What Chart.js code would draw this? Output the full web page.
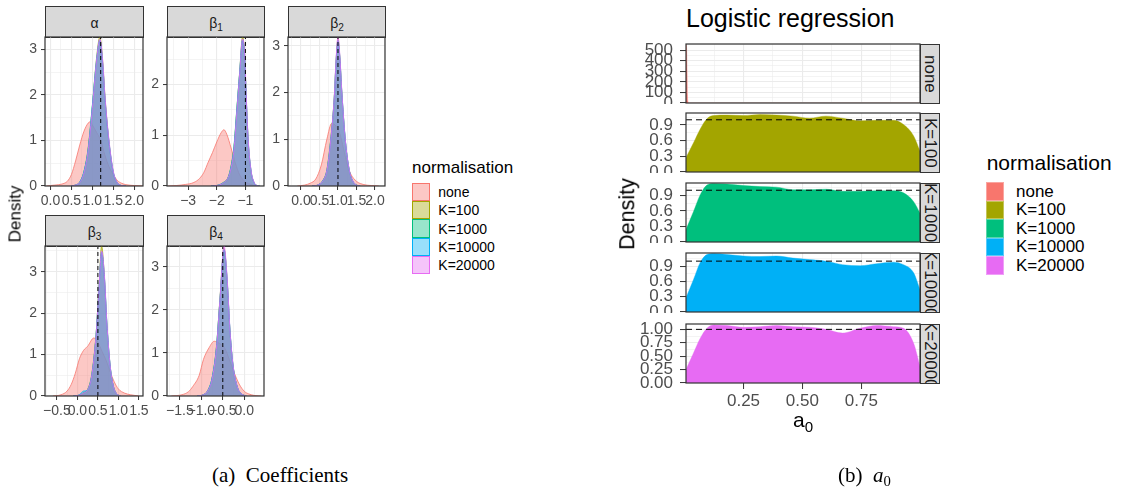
<!DOCTYPE html>
<html>
<head>
<meta charset="utf-8">
<script src="https://cdn.jsdelivr.net/npm/chart.js@4.4.1/dist/chart.umd.min.js"></script>
<style>
  body { margin: 0; background: #fff; }
  #page { position: relative; width: 1122px; height: 491px; overflow: hidden; background: #fff;
          font-family: "Liberation Sans", Arial, Helvetica, sans-serif; }
  .strip { position: absolute; box-sizing: border-box; background: #D9D9D9; border: 1px solid #333333;
           color: #1A1A1A; display: flex; align-items: center; justify-content: center; overflow: hidden; }
  .vstrip { writing-mode: vertical-rl; }
  sub { font-size: 72%; vertical-align: -0.3em; line-height: 0; }
</style>
</head>
<body>
<div id="page"></div>
<script>
// ---- normalisation groups ----
const normLabels = ['none', 'K=100', 'K=1000', 'K=10000', 'K=20000'];
const normColours = ['#F8766D', '#A3A500', '#00BF7D', '#00B0F6', '#E76BF3'];

// ---- coefficient densities (left figure) ----
const coefNames = ['α', 'β<sub>1</sub>', 'β<sub>2</sub>', 'β<sub>3</sub>', 'β<sub>4</sub>'];
const trueCoef = [1.2, -1, 1, 0.5, -0.5];

const alphaNoneX = [-0.1, 0.0, 0.1, 0.2, 0.3, 0.4, 0.5, 0.6, 0.7, 0.8, 0.9, 0.95, 1.0, 1.1, 1.2, 1.3, 1.4, 1.5, 1.6, 1.7, 1.8, 2.0, 2.2];
const alphaNoneY = [0.0, 0.01, 0.02, 0.03, 0.05, 0.10, 0.25, 0.55, 0.90, 1.20, 1.38, 1.41, 1.34, 1.18, 1.00, 0.68, 0.42, 0.25, 0.12, 0.06, 0.03, 0.01, 0.0];
const alphaKX = [0.5, 0.6, 0.7, 0.8, 0.9, 1.0, 1.1, 1.18, 1.25, 1.3, 1.4, 1.5, 1.6, 1.7, 1.8];
const alphaK100 = [0.0, 0.02, 0.08, 0.30, 0.80, 1.72, 2.80, 3.27, 2.70, 1.98, 0.93, 0.29, 0.06, 0.01, 0.0];
const alphaK1000 = [0.0, 0.02, 0.09, 0.32, 0.83, 1.76, 2.72, 3.18, 2.64, 1.95, 0.96, 0.31, 0.07, 0.01, 0.0];
const alphaK10000 = [0.0, 0.02, 0.08, 0.31, 0.79, 1.74, 2.76, 3.21, 2.66, 1.93, 0.94, 0.30, 0.06, 0.01, 0.0];
const alphaK20000 = [0.0, 0.02, 0.08, 0.29, 0.78, 1.70, 2.74, 3.22, 2.73, 2.01, 0.99, 0.33, 0.07, 0.01, 0.0];

const b1NoneX = [-3.7, -3.4, -3.1, -2.8, -2.6, -2.45, -2.3, -2.15, -2.0, -1.85, -1.75, -1.65, -1.5, -1.35, -1.2, -1.0, -0.8, -0.6];
const b1NoneY = [0.0, 0.01, 0.03, 0.07, 0.15, 0.27, 0.47, 0.66, 0.87, 1.05, 1.11, 1.02, 0.75, 0.45, 0.22, 0.08, 0.03, 0.0];
const b1KX = [-2.2, -2.0, -1.8, -1.6, -1.5, -1.4, -1.3, -1.2, -1.1, -1.03, -0.97, -0.9, -0.8, -0.7, -0.6, -0.5];
const b1K100 = [0, 0.01, 0.05, 0.17, 0.38, 0.75, 1.50, 2.25, 2.94, 2.62, 1.72, 0.86, 0.28, 0.07, 0.01, 0];
const b1K1000 = [0, 0.01, 0.06, 0.18, 0.40, 0.78, 1.52, 2.22, 2.86, 2.58, 1.70, 0.85, 0.27, 0.07, 0.01, 0];
const b1K10000 = [0, 0.01, 0.05, 0.16, 0.37, 0.74, 1.48, 2.24, 2.89, 2.60, 1.74, 0.88, 0.29, 0.07, 0.01, 0];
const b1K20000 = [0, 0.01, 0.05, 0.17, 0.36, 0.72, 1.46, 2.22, 2.90, 2.64, 1.78, 0.90, 0.30, 0.08, 0.01, 0];

const b2NoneX = [-0.1, 0.1, 0.25, 0.4, 0.55, 0.7, 0.83, 0.95, 1.05, 1.15, 1.25, 1.35, 1.5, 1.7, 1.9, 2.1];
const b2NoneY = [0.0, 0.02, 0.06, 0.15, 0.45, 1.00, 1.34, 1.28, 1.12, 0.80, 0.45, 0.25, 0.10, 0.03, 0.01, 0.0];
const b2KX = [0.3, 0.45, 0.6, 0.7, 0.8, 0.9, 0.95, 1.0, 1.05, 1.1, 1.2, 1.3, 1.4, 1.5, 1.6];
const b2K100 = [0, 0.02, 0.12, 0.33, 0.95, 1.90, 2.70, 3.15, 2.75, 2.05, 0.95, 0.35, 0.10, 0.02, 0];
const b2K1000 = [0, 0.02, 0.13, 0.35, 0.97, 1.88, 2.66, 3.10, 2.72, 2.02, 0.96, 0.36, 0.10, 0.02, 0];
const b2K10000 = [0, 0.02, 0.12, 0.32, 0.93, 1.87, 2.68, 3.12, 2.76, 2.06, 0.97, 0.35, 0.11, 0.02, 0];
const b2K20000 = [0, 0.02, 0.12, 0.33, 0.94, 1.92, 2.74, 3.19, 2.80, 2.08, 0.98, 0.37, 0.11, 0.02, 0];

const b3NoneX = [-0.6, -0.4, -0.25, -0.15, -0.05, 0.05, 0.15, 0.25, 0.4, 0.5, 0.6, 0.7, 0.8, 0.9, 1.0, 1.15, 1.3, 1.5];
const b3NoneY = [0.0, 0.03, 0.12, 0.28, 0.55, 0.90, 1.10, 1.20, 1.40, 1.30, 1.08, 0.86, 0.58, 0.34, 0.17, 0.07, 0.03, 0.0];
const b3KX = [-0.1, 0.05, 0.15, 0.25, 0.35, 0.45, 0.52, 0.59, 0.66, 0.72, 0.8, 0.88, 0.96, 1.05];
const b3K100 = [0, 0.02, 0.07, 0.15, 0.50, 1.40, 2.50, 3.62, 2.85, 1.70, 0.70, 0.22, 0.05, 0];
const b3K1000 = [0, 0.02, 0.08, 0.16, 0.52, 1.42, 2.46, 3.45, 2.80, 1.72, 0.72, 0.23, 0.05, 0];
const b3K10000 = [0, 0.03, 0.12, 0.14, 0.48, 1.38, 2.44, 3.48, 2.86, 1.74, 0.71, 0.22, 0.05, 0];
const b3K20000 = [0, 0.02, 0.07, 0.15, 0.49, 1.39, 2.48, 3.50, 2.90, 1.76, 0.73, 0.23, 0.05, 0];

const b4NoneX = [-1.7, -1.45, -1.3, -1.2, -1.05, -0.95, -0.82, -0.7, -0.58, -0.45, -0.35, -0.25, -0.12, 0.0, 0.1, 0.25, 0.4];
const b4NoneY = [0.0, 0.03, 0.10, 0.22, 0.48, 0.85, 1.12, 1.27, 1.22, 1.10, 0.85, 0.58, 0.28, 0.11, 0.05, 0.01, 0.0];
const b4KX = [-1.1, -0.95, -0.85, -0.75, -0.65, -0.57, -0.47, -0.4, -0.33, -0.26, -0.15, -0.05, 0.05];
const b4K100 = [0, 0.03, 0.12, 0.40, 1.10, 2.20, 3.42, 2.70, 1.45, 0.68, 0.17, 0.04, 0];
const b4K1000 = [0, 0.03, 0.13, 0.42, 1.12, 2.18, 3.38, 2.68, 1.47, 0.70, 0.18, 0.04, 0];
const b4K10000 = [0, 0.03, 0.12, 0.41, 1.09, 2.16, 3.40, 2.72, 1.48, 0.69, 0.17, 0.04, 0];
const b4K20000 = [0, 0.03, 0.12, 0.39, 1.08, 2.19, 3.48, 2.76, 1.50, 0.71, 0.18, 0.04, 0];

// axis ranges and ticks per coefficient
const coefXRange = [[-0.13, 2.21], [-3.74, -0.35], [-0.35, 2.27], [-0.79, 1.6], [-1.8, 0.46]];
const coefXTicks = [[0, 0.5, 1, 1.5, 2], [-3, -2, -1], [0, 0.5, 1, 1.5, 2], [-0.5, 0, 0.5, 1, 1.5], [-1.5, -1, -0.5, 0]];
const coefXLabels = [['0.0', '0.5', '1.0', '1.5', '2.0'], ['−3', '−2', '−1'], ['0.0', '0.5', '1.0', '1.5', '2.0'],
                     ['−0.5', '0.0', '0.5', '1.0', '1.5'], ['−1.5', '−1.0', '−0.5', '0.0']];
const coefYMax = [3.27, 2.94, 3.19, 3.62, 3.48];
const coefYTicks = [[0, 1, 2, 3], [0, 1, 2], [0, 1, 2, 3], [0, 1, 2, 3], [0, 1, 2, 3]];

// ---- a0 densities (right figure) ----
const a0NoneX = [0.006, 0.0085, 0.0105, 0.012, 0.014, 0.018, 0.5, 0.999];
const a0NoneY = [558, 520, 300, 80, 15, 0, 0, 0];
const a0X = [0.006, 0.038, 0.066, 0.095, 0.123, 0.18, 0.25, 0.32, 0.39, 0.46, 0.53, 0.60, 0.67, 0.745, 0.815, 0.886, 0.929, 0.972, 0.999];
const a0K100 = [0.275, 0.56, 0.82, 1.02, 1.08, 1.09, 1.08, 1.10, 1.09, 1.07, 1.03, 1.07, 1.03, 0.98, 0.99, 0.99, 0.91, 0.69, 0.40];
const a0K1000 = [0.24, 0.59, 0.91, 1.10, 1.13, 1.12, 1.09, 1.07, 1.06, 1.01, 1.01, 1.02, 0.98, 0.98, 0.99, 0.99, 0.95, 0.78, 0.56];
const a0K10000 = [0.28, 0.64, 0.97, 1.13, 1.15, 1.13, 1.10, 1.09, 1.10, 1.06, 1.03, 1.00, 0.93, 0.91, 0.95, 0.98, 0.93, 0.77, 0.44];
const a0K20000 = [0.25, 0.56, 0.83, 1.02, 1.08, 1.07, 1.04, 1.05, 1.07, 1.05, 1.04, 1.00, 0.93, 1.02, 1.07, 1.05, 1.02, 0.74, 0.31];
const a0Target = 1;

const a0XRange = [0.006, 0.999];
const a0XTicks = [0.25, 0.5, 0.75];
const a0XLabels = ['0.25', '0.50', '0.75'];
const a0YMax = [558, 1.13, 1.14, 1.16, 1.10];
const a0YTicks = [[0, 100, 200, 300, 400, 500], [0, 0.3, 0.6, 0.9], [0, 0.3, 0.6, 0.9], [0, 0.3, 0.6, 0.9], [0, 0.25, 0.5, 0.75, 1]];
const a0YLabels = [['0', '100', '200', '300', '400', '500'], ['0.0', '0.3', '0.6', '0.9'], ['0.0', '0.3', '0.6', '0.9'],
                   ['0.0', '0.3', '0.6', '0.9'], ['0.00', '0.25', '0.50', '0.75', '1.00']];

// -------------------------------------------------------------------
const FONT = '"Liberation Sans", Arial, Helvetica, sans-serif';
Chart.defaults.font.family = FONT;
const page = document.getElementById('page');

function rgba(hex, a) {
  const n = parseInt(hex.slice(1), 16);
  return `rgba(${n >> 16}, ${(n >> 8) & 255}, ${n & 255}, ${a})`;
}

function text(html, css) {
  const d = document.createElement('div');
  d.innerHTML = html;
  d.style.cssText = 'position:absolute;white-space:nowrap;line-height:1;' + css;
  page.appendChild(d);
  return d;
}

// major ticks plus the half-way minor grid positions inside [min, max]
function gridValues(major, min, max) {
  const half = (major[1] - major[0]) / 2;
  const vals = [];
  for (let v = major[0]; v >= min - 1e-9; v -= half) vals.push(v);
  for (let v = major[0] + half; v <= max + 1e-9; v += half) vals.push(v);
  return vals.filter(v => v >= min - 1e-9 && v <= max + 1e-9).sort((a, b) => a - b);
}

function axisOptions(spec, size, showLabels, fontPx, tickLen, pad) {
  const all = gridValues(spec.ticks, spec.min, spec.max);
  const majorIndex = v => spec.ticks.findIndex(m => Math.abs(m - v) < 1e-6);
  return {
    type: 'linear',
    min: spec.min,
    max: spec.max,
    afterBuildTicks: s => { s.ticks = all.map(v => ({ value: v })); },
    afterFit: s => {
      if (s.isHorizontal()) s.height = size; else s.width = size;
      s.paddingLeft = s.paddingRight = s.paddingTop = s.paddingBottom = 0;
    },
    border: { display: false },
    grid: {
      color: '#EBEBEB',
      lineWidth: c => (majorIndex(c.tick.value) >= 0 ? 1.1 : 0.55),
      drawTicks: showLabels,
      tickLength: tickLen,
      tickWidth: 1,
      tickColor: c => (majorIndex(c.tick.value) >= 0 ? '#333333' : 'rgba(0,0,0,0)')
    },
    ticks: {
      display: showLabels,
      autoSkip: false,
      maxRotation: 0,
      minRotation: 0,
      padding: pad,
      color: '#4D4D4D',
      font: { family: FONT, size: fontPx },
      callback: v => { const i = majorIndex(v); return i >= 0 ? spec.labels[i] : ''; }
    }
  };
}

const panelBorder = {
  id: 'panelBorder',
  afterDatasetsDraw(chart) {
    const { ctx, chartArea: a } = chart;
    ctx.save();
    ctx.strokeStyle = '#333333';
    ctx.lineWidth = 1.2;
    ctx.strokeRect(a.left, a.top, a.right - a.left, a.bottom - a.top);
    ctx.restore();
  }
};

function curve(xs, ys, colour, alpha, order) {
  return {
    data: xs.map((x, i) => ({ x, y: ys[i] })),
    borderColor: colour,
    backgroundColor: rgba(colour, alpha),
    borderWidth: alpha < 1 ? 0.8 : 0.4,
    fill: 'origin',
    order
  };
}

function dashed(points, dash) {
  return {
    data: points,
    borderColor: '#000000',
    borderWidth: 1,
    borderDash: dash,
    fill: false,
    tension: 0,
    cubicInterpolationMode: 'default',
    order: 0
  };
}

function densityPanel(p) {
  const W = p.yw + p.w + p.padR;
  const H = p.padT + p.h + p.xh;
  const cv = document.createElement('canvas');
  cv.width = W;
  cv.height = H;
  cv.style.cssText = `position:absolute;left:${p.x - p.yw}px;top:${p.y - p.padT}px;width:${W}px;height:${H}px;`;
  page.appendChild(cv);
  new Chart(cv, {
    type: 'line',
    data: { datasets: p.datasets },
    options: {
      responsive: false,
      animation: false,
      devicePixelRatio: 1,
      events: [],
      layout: { padding: { left: 0, top: p.padT, right: p.padR, bottom: 0 } },
      elements: { point: { radius: 0 }, line: { cubicInterpolationMode: 'monotone' } },
      plugins: { legend: { display: false }, tooltip: { enabled: false } },
      scales: {
        x: axisOptions(p.xAxis, p.xh, p.showX, p.font, p.tickLen, p.xPad),
        y: axisOptions(p.yAxis, p.yw, true, p.font, p.tickLen, p.yPad)
      }
    },
    plugins: [panelBorder]
  });
}

// ---- left figure: coefficients ----
const coefCurves = [
  [alphaNoneX, alphaNoneY, alphaKX, [alphaK100, alphaK1000, alphaK10000, alphaK20000]],
  [b1NoneX, b1NoneY, b1KX, [b1K100, b1K1000, b1K10000, b1K20000]],
  [b2NoneX, b2NoneY, b2KX, [b2K100, b2K1000, b2K10000, b2K20000]],
  [b3NoneX, b3NoneY, b3KX, [b3K100, b3K1000, b3K10000, b3K20000]],
  [b4NoneX, b4NoneY, b4KX, [b4K100, b4K1000, b4K10000, b4K20000]]
];
const colLeft = [45, 167, 288];
const colWidth = [98, 97, 97];
const rowTop = [37, 246];
const rowHeight = [149, 150];

coefCurves.forEach(([nx, ny, kx, ks], i) => {
  const col = i % 3, row = Math.floor(i / 3);
  const x = colLeft[col], w = colWidth[col], y = rowTop[row], h = rowHeight[row];

  const strip = document.createElement('div');
  strip.className = 'strip';
  strip.style.cssText = `left:${x}px;top:${y - 31}px;width:${w + 1}px;height:32px;font-size:14px;padding-top:1px;`;
  strip.innerHTML = `<span>${coefNames[i]}</span>`;
  page.appendChild(strip);

  const datasets = [curve(nx, ny, normColours[0], 0.4, 5)];
  ks.forEach((ys, k) => datasets.push(curve(kx, ys, normColours[k + 1], 0.4, 4 - k)));
  datasets.push(dashed([{ x: trueCoef[i], y: 0 }, { x: trueCoef[i], y: coefYMax[i] }], [4, 3]));

  densityPanel({
    x, y, w, h, yw: 24, xh: 26, padT: 8, padR: 12, font: 14, tickLen: 4, xPad: 3, yPad: 4, showX: true,
    xAxis: { min: coefXRange[i][0], max: coefXRange[i][1], ticks: coefXTicks[i], labels: coefXLabels[i] },
    yAxis: { min: 0, max: coefYMax[i], ticks: coefYTicks[i], labels: coefYTicks[i].map(String) },
    datasets
  });
});

text('Density', 'left:15px;top:214px;font-size:17px;color:#000;transform:translate(-50%,-50%) rotate(-90deg);');

// left legend
text('normalisation', 'left:412px;top:158.9px;font-size:17px;color:#000;');
normLabels.forEach((lab, k) => {
  const key = document.createElement('div');
  key.style.cssText = `position:absolute;left:412px;top:${182.7 + 18.3 * k}px;width:17.6px;height:18.3px;box-sizing:border-box;` +
    `background:${rgba(normColours[k], 0.4)};border:1px solid ${normColours[k]};`;
  page.appendChild(key);
  text(lab, `left:438.3px;top:${196.85 + 18.3 * k - 11.85}px;font-size:14px;color:#000;`);
});

text('(a)&nbsp; Coefficients', 'left:212px;top:465.4px;font-size:21px;font-family:"Liberation Serif","Times New Roman",serif;color:#000;');

// ---- right figure: a0 ----
const a0Series = [a0K100, a0K1000, a0K10000, a0K20000];
const a0Top = [44, 113, 183, 253, 324];

a0Top.forEach((y, r) => {
  const isLast = r === a0Top.length - 1;
  const datasets = [];
  if (r === 0) {
    datasets.push(curve(a0NoneX, a0NoneY, normColours[0], 1, 1));
  } else {
    datasets.push(curve(a0X, a0Series[r - 1], normColours[r], 1, 1));
    datasets.push(dashed([{ x: a0XRange[0], y: a0Target }, { x: a0XRange[1], y: a0Target }], [6, 4]));
  }
  densityPanel({
    x: 686, y, w: 234, h: 59, yw: 52, xh: isLast ? 34 : 1, padT: 10, padR: 6, font: 17, tickLen: 6, xPad: 2, yPad: 7, showX: isLast,
    xAxis: { min: a0XRange[0], max: a0XRange[1], ticks: a0XTicks, labels: a0XLabels },
    yAxis: { min: 0, max: a0YMax[r], ticks: a0YTicks[r], labels: a0YLabels[r] },
    datasets
  });

  const strip = document.createElement('div');
  strip.className = 'strip vstrip';
  strip.style.cssText = `left:920px;top:${y}px;width:20px;height:60px;font-size:17px;`;
  strip.textContent = normLabels[r];
  page.appendChild(strip);
});

text('Logistic regression', 'left:686px;top:5.5px;font-size:25px;color:#000;');
text('Density', 'left:628px;top:213.5px;font-size:21.5px;color:#000;transform:translate(-50%,-50%) rotate(-90deg);');
text('a<sub>0</sub>', 'left:803px;top:408.7px;font-size:21px;color:#000;transform:translateX(-50%);');

// right legend
text('normalisation', 'left:986.7px;top:151.5px;font-size:21px;color:#000;');
normLabels.forEach((lab, k) => {
  const key = document.createElement('div');
  key.style.cssText = `position:absolute;left:986px;top:${182.3 + 18.54 * k}px;width:18.3px;height:18.54px;box-sizing:border-box;` +
    `background:${normColours[k]};border:1px solid ${rgba('#FFFFFF', 0.35)};`;
  page.appendChild(key);
  text(lab, `left:1016px;top:${197.07 + 18.54 * k - 14.4}px;font-size:17px;color:#000;`);
});

text('(b)&nbsp; <i>a</i><sub style="font-size:70%">0</sub>', 'left:838px;top:465.4px;font-size:21px;font-family:"Liberation Serif","Times New Roman",serif;color:#000;');
</script>
</body>
</html>
